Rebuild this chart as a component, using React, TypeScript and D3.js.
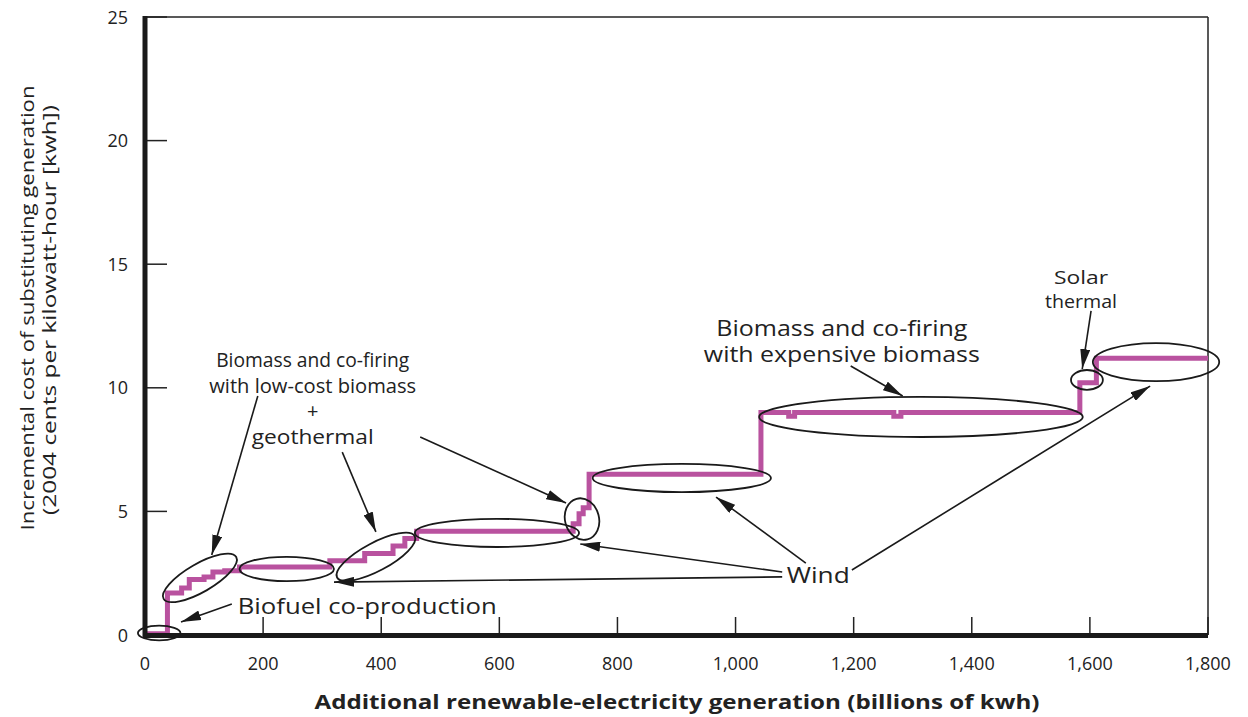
import React from 'react';
import * as d3 from 'd3';

// ---- data ----
const xTicks = [0, 200, 400, 600, 800, 1000, 1200, 1400, 1600, 1800];
const yTicks = [0, 5, 10, 15, 20, 25];

// supply-curve steps (start of each step, cost level)
const stepX = [0, 38, 62, 75, 100, 115, 135, 160, 313, 372, 420, 440, 460, 725, 735, 742, 752, 1043, 1090, 1100, 1268, 1280, 1583, 1611, 1800];
const stepY = [0.05, 1.7, 1.9, 2.25, 2.35, 2.55, 2.6, 2.75, 3.0, 3.3, 3.6, 3.9, 4.2, 4.5, 4.9, 5.15, 6.5, 9.0, 8.85, 9.0, 8.85, 9.0, 10.2, 11.2, 11.2];

// annotation ellipses: centre in data units, radii in data units, rotation in degrees
const ellCx = [24, 93, 240, 391, 596, 740, 909, 1314, 1595, 1712];
const ellCy = [0.08, 2.31, 2.67, 3.16, 4.13, 4.69, 6.35, 8.82, 10.32, 11.04];
const ellRx = [36, 71, 80, 74.5, 139, 28.8, 151, 274, 27, 107];
const ellRy = [0.3, 0.57, 0.49, 0.57, 0.57, 0.85, 0.57, 0.81, 0.4, 0.77];
const ellRot = [0, -30, 0, -28, 0, -15, 0, 0, 0, 0];

// arrows: from (x1,y1) to (x2,y2), in data units
const arrX1 = [147, 191, 334, 466, 1079, 1079, 1119, 1197, 1195, 1602];
const arrY1 = [1.25, 9.67, 7.4, 8.01, 2.55, 2.35, 2.91, 2.63, 10.88, 13.11];
const arrX2 = [61, 113, 391, 713, 737, 320, 967, 1702, 1283, 1587];
const arrY2 = [0.53, 3.24, 4.17, 5.34, 3.68, 2.14, 5.58, 10.07, 9.67, 10.76];

// labels: text lines, anchor position in data units
const labelLines = [
  ['Biomass and co-firing', 'with low-cost biomass', '+', 'geothermal'],
  ['Biomass and co-firing', 'with expensive biomass'],
  ['Solar', 'thermal'],
  ['Wind'],
  ['Biofuel co-production'],
];
const labelLen = [
  [193, 207, 0, 122],
  [251, 276],
  [54, 72],
  [63],
  [259],
];
const labelX = [284, 1180, 1585, 1140, 157];
const labelY = [10.84, 12.1, 14.2, 2.10, 0.85];
const labelAnchor = ['middle', 'middle', 'middle', 'middle', 'start'];
const labelSize = [20, 21, 19, 21, 21];
const labelGap = [25.5, 26, 24, 0, 0];

const xTitle = 'Additional renewable-electricity generation (billions of kwh)';
const yTitle1 = 'Incremental cost of substituting generation';
const yTitle2 = '(2004 cents per kilowatt-hour [kwh])';

const W = 1248;
const H = 717;
const FONT = '"Open Sans", "Noto Sans", sans-serif';
const MAGENTA = '#b9529f';
const INK = '#222';

export default function App() {
  const x = d3.scaleLinear().domain([0, 1800]).range([145, 1208]);
  const y = d3.scaleLinear().domain([0, 25]).range([635, 17]);
  const kx = (x(1800) - x(0)) / 1800;
  const ky = (y(0) - y(25)) / 25;

  const pts: [number, number][] = stepX.map((v, i) => [v, stepY[i]]);
  const line = d3
    .line<[number, number]>()
    .x((d) => x(d[0]))
    .y((d) => y(d[1]))
    .curve(d3.curveStepAfter);

  const fmt = d3.format(',');

  return (
    <svg
      width={W}
      height={H}
      style={{ position: 'absolute', left: 0, top: 0, background: '#fff' }}
      fontFamily={FONT}
    >
      <defs>
        <marker
          id="ah"
          viewBox="0 0 20 10"
          refX={20}
          refY={5}
          markerWidth={20}
          markerHeight={10}
          markerUnits="userSpaceOnUse"
          orient="auto"
        >
          <path d="M0,0 L20,5 L0,10 Z" fill="#1a1a1a" />
        </marker>
      </defs>

      {/* frame: thin top and right */}
      <line x1={x(0)} x2={x(1800)} y1={y(25)} y2={y(25)} stroke="#222" strokeWidth={1.5} />
      <line x1={x(1800)} x2={x(1800)} y1={y(25)} y2={y(0)} stroke="#222" strokeWidth={1.5} />

      {/* ticks */}
      {yTicks.map((t) => (
        <g key={'yt' + t}>
          <line x1={x(0)} x2={x(0) + 22} y1={y(t)} y2={y(t)} stroke="#222" strokeWidth={1.5} />
          <text x={128} y={y(t) + 6.5} textAnchor="end" fontSize={18} fill={INK}>
            {t}
          </text>
        </g>
      ))}
      {xTicks.map((t) => (
        <g key={'xt' + t}>
          <line x1={x(t)} x2={x(t)} y1={y(0)} y2={y(0) - 18} stroke="#222" strokeWidth={1.5} />
          <text x={x(t)} y={670} textAnchor="middle" fontSize={18} fill={INK}>
            {fmt(t)}
          </text>
        </g>
      ))}

      {/* step line */}
      <path d={line(pts) || ''} fill="none" stroke={MAGENTA} strokeWidth={5} strokeLinejoin="miter" />

      {/* thick axes */}
      <line x1={x(0)} x2={x(0)} y1={y(25) - 1} y2={y(0) + 3} stroke="#1a1a1a" strokeWidth={5} />
      <line x1={x(0) - 2} x2={x(1800)} y1={y(0) + 0.5} y2={y(0) + 0.5} stroke="#1a1a1a" strokeWidth={5} />

      {/* ellipses */}
      {ellCx.map((cx, i) => (
        <ellipse
          key={'e' + i}
          cx={0}
          cy={0}
          rx={ellRx[i] * kx}
          ry={ellRy[i] * ky}
          transform={`translate(${x(cx)},${y(ellCy[i])}) rotate(${ellRot[i]})`}
          fill="none"
          stroke="#1a1a1a"
          strokeWidth={1.8}
        />
      ))}

      {/* arrows */}
      {arrX1.map((v, i) => (
        <line
          key={'a' + i}
          x1={x(v)}
          y1={y(arrY1[i])}
          x2={x(arrX2[i])}
          y2={y(arrY2[i])}
          stroke="#1a1a1a"
          strokeWidth={1.6}
          markerEnd="url(#ah)"
        />
      ))}

      {/* labels */}
      {labelLines.map((lines, i) =>
        lines.map((s, j) => {
          const len = labelLen[i][j];
          return (
            <text
              key={'l' + i + '-' + j}
              x={x(labelX[i])}
              y={y(labelY[i]) + j * labelGap[i]}
              textAnchor={labelAnchor[i]}
              fontSize={labelSize[i]}
              fill={INK}
              {...(len ? { textLength: len, lengthAdjust: 'spacingAndGlyphs' } : {})}
            >
              {s}
            </text>
          );
        })
      )}

      {/* axis titles */}
      <text
        x={677}
        y={709}
        textAnchor="middle"
        fontSize={19}
        fontWeight="bold"
        fill={INK}
        textLength={725}
        lengthAdjust="spacingAndGlyphs"
      >
        {xTitle}
      </text>
      <text
        transform={`translate(34,${308}) rotate(-90)`}
        textAnchor="middle"
        fontSize={18}
        fill={INK}
        textLength={445}
        lengthAdjust="spacingAndGlyphs"
      >
        {yTitle1}
      </text>
      <text
        transform={`translate(56,${310}) rotate(-90)`}
        textAnchor="middle"
        fontSize={18}
        fill={INK}
        textLength={410}
        lengthAdjust="spacingAndGlyphs"
      >
        {yTitle2}
      </text>
    </svg>
  );
}
